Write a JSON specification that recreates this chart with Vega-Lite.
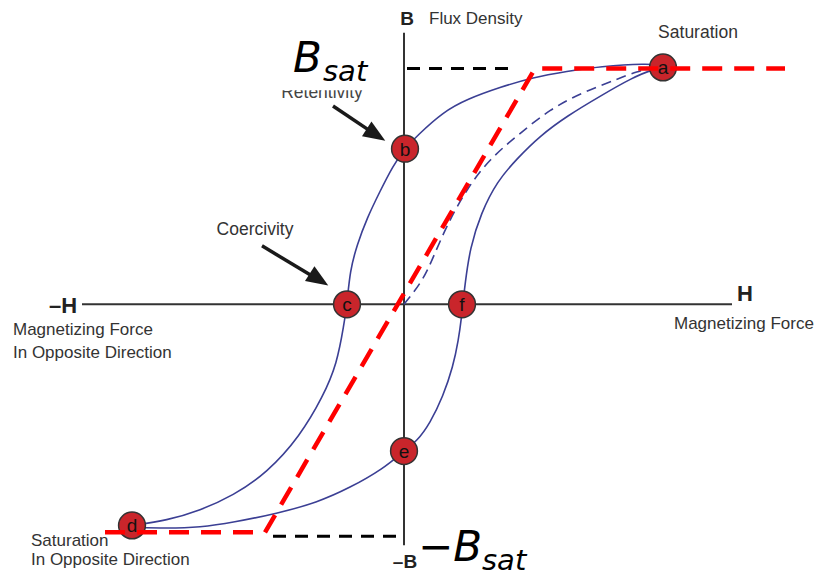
{
  "$schema": "https://vega.github.io/schema/vega-lite/v6.json",
  "width": 821,
  "height": 576,
  "autosize": {"type": "fit", "contains": "padding"},
  "padding": 0,
  "background": "white",
  "config": {"view": {"stroke": null}, "text": {"font": "Liberation Sans"}},
  "datasets": {
    "loop": [
      {"s": "upper", "i": 0, "h": 2.59, "b": 2.41},
      {"s": "upper", "i": 1, "h": 2.43, "b": 2.43},
      {"s": "upper", "i": 2, "h": 1.96, "b": 2.40},
      {"s": "upper", "i": 3, "h": 1.63, "b": 2.35},
      {"s": "upper", "i": 4, "h": 1.29, "b": 2.29},
      {"s": "upper", "i": 5, "h": 0.96, "b": 2.19},
      {"s": "upper", "i": 6, "h": 0.63, "b": 2.07},
      {"s": "upper", "i": 7, "h": 0.39, "b": 1.94},
      {"s": "upper", "i": 8, "h": 0.13, "b": 1.70},
      {"s": "upper", "i": 9, "h": 0.01, "b": 1.57},
      {"s": "upper", "i": 10, "h": -0.11, "b": 1.40},
      {"s": "upper", "i": 11, "h": -0.24, "b": 1.14},
      {"s": "upper", "i": 12, "h": -0.37, "b": 0.87},
      {"s": "upper", "i": 13, "h": -0.47, "b": 0.60},
      {"s": "upper", "i": 14, "h": -0.54, "b": 0.34},
      {"s": "upper", "i": 15, "h": -0.57, "b": 0.0},
      {"s": "upper", "i": 16, "h": -0.60, "b": -0.20},
      {"s": "upper", "i": 17, "h": -0.67, "b": -0.60},
      {"s": "upper", "i": 18, "h": -0.81, "b": -0.93},
      {"s": "upper", "i": 19, "h": -1.04, "b": -1.33},
      {"s": "upper", "i": 20, "h": -1.37, "b": -1.70},
      {"s": "upper", "i": 21, "h": -1.71, "b": -1.93},
      {"s": "upper", "i": 22, "h": -2.04, "b": -2.08},
      {"s": "upper", "i": 23, "h": -2.37, "b": -2.18},
      {"s": "upper", "i": 24, "h": -2.72, "b": -2.23},
      {"s": "lower", "i": 0, "h": -2.72, "b": -2.25},
      {"s": "lower", "i": 1, "h": -2.37, "b": -2.26},
      {"s": "lower", "i": 2, "h": -2.04, "b": -2.25},
      {"s": "lower", "i": 3, "h": -1.71, "b": -2.20},
      {"s": "lower", "i": 4, "h": -1.27, "b": -2.11},
      {"s": "lower", "i": 5, "h": -0.87, "b": -2.00},
      {"s": "lower", "i": 6, "h": -0.54, "b": -1.85},
      {"s": "lower", "i": 7, "h": -0.21, "b": -1.66},
      {"s": "lower", "i": 8, "h": 0.0, "b": -1.48},
      {"s": "lower", "i": 9, "h": 0.13, "b": -1.38},
      {"s": "lower", "i": 10, "h": 0.26, "b": -1.20},
      {"s": "lower", "i": 11, "h": 0.39, "b": -0.93},
      {"s": "lower", "i": 12, "h": 0.49, "b": -0.63},
      {"s": "lower", "i": 13, "h": 0.545, "b": -0.36},
      {"s": "lower", "i": 14, "h": 0.575, "b": -0.13},
      {"s": "lower", "i": 15, "h": 0.59, "b": 0.02},
      {"s": "lower", "i": 16, "h": 0.61, "b": 0.20},
      {"s": "lower", "i": 17, "h": 0.66, "b": 0.57},
      {"s": "lower", "i": 18, "h": 0.77, "b": 0.92},
      {"s": "lower", "i": 19, "h": 0.93, "b": 1.24},
      {"s": "lower", "i": 20, "h": 1.13, "b": 1.47},
      {"s": "lower", "i": 21, "h": 1.36, "b": 1.70},
      {"s": "lower", "i": 22, "h": 1.63, "b": 1.90},
      {"s": "lower", "i": 23, "h": 1.96, "b": 2.10},
      {"s": "lower", "i": 24, "h": 2.29, "b": 2.29},
      {"s": "lower", "i": 25, "h": 2.49, "b": 2.37},
      {"s": "lower", "i": 26, "h": 2.59, "b": 2.39}
    ],
    "initial": [
      {"i": 0, "h": 0.0, "b": 0.0},
      {"i": 1, "h": 0.19, "b": 0.24},
      {"i": 2, "h": 0.29, "b": 0.47},
      {"i": 3, "h": 0.43, "b": 0.80},
      {"i": 4, "h": 0.63, "b": 1.17},
      {"i": 5, "h": 0.86, "b": 1.47},
      {"i": 6, "h": 1.13, "b": 1.70},
      {"i": 7, "h": 1.46, "b": 1.97},
      {"i": 8, "h": 1.79, "b": 2.14},
      {"i": 9, "h": 2.13, "b": 2.27},
      {"i": 10, "h": 2.33, "b": 2.35},
      {"i": 11, "h": 2.51, "b": 2.39}
    ],
    "ideal": [
      {"i": 0, "h": -2.99, "b": -2.30},
      {"i": 1, "h": -1.39, "b": -2.30},
      {"i": 2, "h": 1.31, "b": 2.38},
      {"i": 3, "h": 3.81, "b": 2.38}
    ],
    "points": [
      {"k": "a", "h": 2.59, "b": 2.39},
      {"k": "b", "h": 0.01, "b": 1.57},
      {"k": "c", "h": -0.57, "b": 0.0},
      {"k": "d", "h": -2.72, "b": -2.23},
      {"k": "e", "h": 0.0, "b": -1.48},
      {"k": "f", "h": 0.58, "b": 0.0}
    ]
  },
  "encoding": {
    "x": {"field": "h", "type": "quantitative", "scale": {"domain": [-4.04, 4.17], "nice": false, "zero": false}, "axis": null},
    "y": {"field": "b", "type": "quantitative", "scale": {"domain": [-2.69, 3.07], "nice": false, "zero": false}, "axis": null}
  },
  "layer": [
    {
      "data": {"values": [
        {"h": 0, "b": 2.74, "h2": 0, "b2": -2.43},
        {"h": -3.22, "b": 0, "h2": 3.28, "b2": 0}
      ]},
      "mark": {"type": "rule", "color": "#333333", "strokeWidth": 2},
      "encoding": {"x2": {"field": "h2"}, "y2": {"field": "b2"}}
    },
    {
      "data": {"values": [
        {"h": 0.03, "b": 2.38, "h2": 1.09, "b2": 2.38},
        {"h": -1.31, "b": -2.34, "h2": -0.02, "b2": -2.34}
      ]},
      "mark": {"type": "rule", "color": "#000000", "strokeWidth": 3, "strokeDash": [13, 9]},
      "encoding": {"x2": {"field": "h2"}, "y2": {"field": "b2"}}
    },
    {
      "data": {"name": "loop"},
      "mark": {"type": "line", "color": "#3b3f94", "strokeWidth": 1.6, "interpolate": "basis"},
      "encoding": {"detail": {"field": "s"}, "order": {"field": "i", "type": "quantitative"}}
    },
    {
      "data": {"name": "initial"},
      "mark": {"type": "line", "color": "#3b3f94", "strokeWidth": 1.6, "strokeDash": [10, 6], "interpolate": "basis"},
      "encoding": {"order": {"field": "i", "type": "quantitative"}}
    },
    {
      "data": {"values": [
        {"h": -0.71, "b": 2.00, "h2": -0.34, "b2": 1.75},
        {"h": -1.42, "b": 0.59, "h2": -0.91, "b2": 0.28}
      ]},
      "mark": {"type": "rule", "color": "#1a1a1a", "strokeWidth": 3.5},
      "encoding": {"x2": {"field": "h2"}, "y2": {"field": "b2"}}
    },
    {
      "data": {"values": [
        {"h": -0.28, "b": 1.71},
        {"h": -0.85, "b": 0.25}
      ]},
      "mark": {"type": "point", "shape": "M0,-1L0.8,1L-0.8,1Z", "filled": true, "color": "#1a1a1a", "opacity": 1, "size": 484, "angle": 122.5}
    },
    {
      "data": {"name": "points"},
      "mark": {"type": "point", "shape": "circle", "filled": true, "fill": "#c9252b", "stroke": "#333333", "strokeWidth": 1.5, "opacity": 1, "size": 720}
    },
    {
      "data": {"name": "points"},
      "mark": {"type": "text", "fontSize": 19, "color": "#111111", "align": "center", "baseline": "middle", "dy": 1},
      "encoding": {"text": {"field": "k"}}
    },
    {
      "data": {"name": "ideal"},
      "mark": {"type": "line", "color": "#ff0000", "strokeWidth": 4.5, "strokeDash": [20, 12]},
      "encoding": {"order": {"field": "i", "type": "quantitative"}}
    },
    {
      "data": {"values": [
        {"t": "Flux Density", "h": 0.25, "b": 2.88},
        {"t": "Magnetizing Force", "h": 2.70, "b": -0.20},
        {"t": "Magnetizing Force", "h": -3.91, "b": -0.26},
        {"t": "In Opposite Direction", "h": -3.91, "b": -0.49},
        {"t": "Saturation", "h": -3.73, "b": -2.385},
        {"t": "In Opposite Direction", "h": -3.73, "b": -2.575}
      ]},
      "mark": {"type": "text", "fontSize": 17, "color": "#333333", "align": "left", "baseline": "middle"},
      "encoding": {"text": {"field": "t"}}
    },
    {
      "data": {"values": [
        {"t": "Saturation", "h": 2.94, "b": 2.74},
        {"t": "Coercivity", "h": -1.49, "b": 0.75}
      ]},
      "mark": {"type": "text", "fontSize": 17.5, "color": "#333333", "align": "center", "baseline": "middle"},
      "encoding": {"text": {"field": "t"}}
    },
    {
      "data": {"values": [{"t": "Retentivity", "h": -0.82, "b": 2.08}]},
      "mark": {"type": "text", "fontSize": 17.5, "color": "#444444", "align": "center", "baseline": "alphabetic"},
      "encoding": {"text": {"field": "t"}}
    },
    {
      "data": {"values": [{"h": -1.36, "b": 2.37, "h2": -0.28, "b2": 2.16}]},
      "mark": {"type": "rect", "color": "#ffffff", "opacity": 1},
      "encoding": {"x2": {"field": "h2"}, "y2": {"field": "b2"}}
    },
    {
      "data": {"values": [
        {"t": "B", "h": 0.03, "b": 2.88},
        {"t": "–B", "h": 0.01, "b": -2.60}
      ]},
      "mark": {"type": "text", "fontSize": 19, "fontWeight": "bold", "color": "#222222", "align": "center", "baseline": "middle"},
      "encoding": {"text": {"field": "t"}}
    },
    {
      "data": {"values": [
        {"t": "–H", "h": -3.41, "b": -0.02},
        {"t": "H", "h": 3.41, "b": 0.10}
      ]},
      "mark": {"type": "text", "fontSize": 22, "fontWeight": "bold", "color": "#222222", "align": "center", "baseline": "middle"},
      "encoding": {"text": {"field": "t"}}
    },
    {
      "data": {"values": [
        {"t": "B", "h": -1.11, "b": 2.34},
        {"t": "−B", "h": 0.14, "b": -2.59}
      ]},
      "mark": {"type": "text", "font": "DejaVu Sans", "fontStyle": "italic", "fontSize": 42, "color": "#000000", "align": "left", "baseline": "alphabetic"},
      "encoding": {"text": {"field": "t"}}
    },
    {
      "data": {"values": [
        {"t": "sat", "h": -0.81, "b": 2.25},
        {"t": "sat", "h": 0.78, "b": -2.68}
      ]},
      "mark": {"type": "text", "font": "DejaVu Sans", "fontStyle": "italic", "fontSize": 29, "color": "#000000", "align": "left", "baseline": "alphabetic"},
      "encoding": {"text": {"field": "t"}}
    }
  ]
}
